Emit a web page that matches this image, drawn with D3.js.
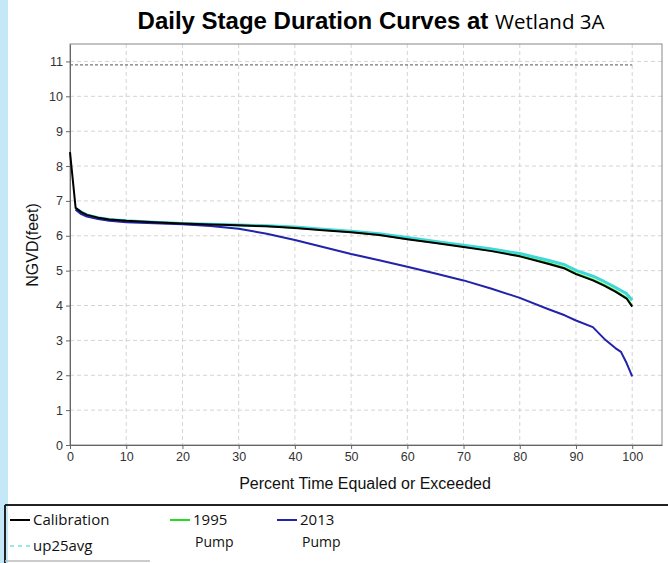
<!DOCTYPE html>
<html>
<head>
<meta charset="utf-8">
<script src="https://cdn.jsdelivr.net/npm/d3@7"></script>
<style>
  body { margin: 0; background: #c4e8f8; }
  svg { display: block; }
</style>
</head>
<body>
<svg></svg>
<script>
// Define variables
const width = 668;
const height = 563;
const margin = {left: 70, right: 6, top: 44, bottom: 117};

// data
const percent = [0, 1, 2, 3, 5, 7, 10, 15, 20, 25, 30, 35, 40, 45, 50, 55, 60, 65, 70, 75, 80, 85, 88, 90, 93, 95, 97, 98, 99, 100];
const calibration = [8.4, 6.8, 6.68, 6.6, 6.52, 6.47, 6.43, 6.39, 6.35, 6.32, 6.3, 6.27, 6.22, 6.16, 6.1, 6.02, 5.9, 5.79, 5.68, 5.56, 5.41, 5.2, 5.06, 4.9, 4.72, 4.57, 4.4, 4.3, 4.2, 3.97];
const pump1995 = [null, 6.79, 6.68, 6.6, 6.52, 6.47, 6.43, 6.39, 6.35, 6.32, 6.3, 6.28, 6.23, 6.17, 6.11, 6.03, 5.91, 5.8, 5.69, 5.57, 5.43, 5.22, 5.08, 4.92, 4.74, 4.59, 4.42, 4.32, 4.22, 3.99];
const up25avg = [null, 6.78, 6.68, 6.6, 6.52, 6.47, 6.43, 6.39, 6.35, 6.33, 6.31, 6.29, 6.25, 6.19, 6.13, 6.06, 5.95, 5.84, 5.73, 5.62, 5.49, 5.3, 5.17, 5.01, 4.84, 4.69, 4.52, 4.43, 4.34, 4.15];
const pump2013 = [null, 6.75, 6.62, 6.55, 6.48, 6.43, 6.39, 6.36, 6.33, 6.28, 6.2, 6.06, 5.88, 5.68, 5.48, 5.3, 5.11, 4.92, 4.72, 4.48, 4.22, 3.9, 3.72, 3.57, 3.38, 3.05, 2.78, 2.67, 2.35, 1.97];
const refLevel = 10.9;
const xTicks = [0, 10, 20, 30, 40, 50, 60, 70, 80, 90, 100];
const yTicks = [0, 1, 2, 3, 4, 5, 6, 7, 8, 9, 10, 11];

const svg = d3.select('svg')
    .attr('width', width)
    .attr('height', height)
    .style('font-family', 'Liberation Sans, Arial, sans-serif')

// slide background
svg.append('rect')
    .attr('x', 8).attr('y', 0)
    .attr('width', width - 8).attr('height', height)
    .attr('fill', '#fff')

const xScale = d3.scaleLinear().domain([0, 105.3]).range([margin.left, width - margin.right])
const yScale = d3.scaleLinear().domain([0, 11.5]).range([height - margin.bottom - 1, margin.top])

const plotBottom = yScale(0)

// grid
svg.append('g').selectAll('line')
    .data(xTicks.slice(1))
    .enter().append('line')
    .attr('x1', d => xScale(d)).attr('x2', d => xScale(d))
    .attr('y1', margin.top).attr('y2', plotBottom)
    .attr('stroke', '#d4d4d4').attr('stroke-dasharray', '4,3')

svg.append('g').selectAll('line')
    .data(yTicks.slice(1))
    .enter().append('line')
    .attr('x1', margin.left).attr('x2', width - margin.right)
    .attr('y1', d => yScale(d)).attr('y2', d => yScale(d))
    .attr('stroke', '#d4d4d4').attr('stroke-dasharray', '4,3')

// reference level
svg.append('line')
    .attr('x1', xScale(0)).attr('x2', xScale(100))
    .attr('y1', yScale(refLevel)).attr('y2', yScale(refLevel))
    .attr('stroke', '#555').attr('stroke-dasharray', '3,2')

// frame
svg.append('rect')
    .attr('x', margin.left).attr('y', margin.top)
    .attr('width', width - margin.right - margin.left)
    .attr('height', plotBottom - margin.top)
    .attr('fill', 'none').attr('stroke', '#888')

// axes
const xAxis = d3.axisBottom(xScale).tickValues(xTicks).tickSize(4).tickSizeOuter(0)
const gx = svg.append('g')
    .attr('transform', 'translate(0,' + plotBottom + ')')
    .call(xAxis)
gx.select('.domain').attr('stroke', '#666')
gx.selectAll('line').attr('stroke', '#666')
gx.selectAll('text').attr('font-size', 12.5).attr('fill', '#333').attr('font-family', 'Liberation Sans, Arial')

const yAxis = d3.axisLeft(yScale).tickValues(yTicks).tickSize(4).tickSizeOuter(0)
const gy = svg.append('g')
    .attr('transform', 'translate(' + margin.left + ',0)')
    .call(yAxis)
gy.select('.domain').attr('stroke', '#666')
gy.selectAll('line').attr('stroke', '#666')
gy.selectAll('text').attr('font-size', 12.5).attr('fill', '#333').attr('font-family', 'Liberation Sans, Arial')

// lines
const series = [
    {name: '1995', values: pump1995, color: '#22dd22', w: 2},
    {name: 'up25avg', values: up25avg, color: '#40d8d4', w: 3},
    {name: '2013', values: pump2013, color: '#2222aa', w: 2},
    {name: 'Calibration', values: calibration, color: '#000', w: 2}
]

const line = d3.line()
    .defined(d => d[1] != null)
    .x(d => xScale(d[0]))
    .y(d => yScale(d[1]))

series.forEach(s => {
    svg.append('path')
        .datum(percent.map((p, i) => [p, s.values[i]]))
        .attr('d', line)
        .attr('fill', 'none')
        .attr('stroke', s.color)
        .attr('stroke-width', s.w)
        .attr('stroke-linejoin', 'round')
})

// titles
const title = svg.append('text')
    .attr('x', 371).attr('y', 29)
    .attr('text-anchor', 'middle')
title.append('tspan')
    .attr('font-family', 'Liberation Sans, Arial').attr('font-weight', 'bold').attr('font-size', 24)
    .text('Daily Stage Duration Curves at ')
title.append('tspan')
    .attr('font-family', 'Open Sans, DejaVu Sans').attr('font-size', 20.5)
    .text('Wetland 3A')

svg.append('text')
    .attr('x', 365).attr('y', 489)
    .attr('text-anchor', 'middle')
    .attr('font-size', 16).attr('fill', '#111')
    .text('Percent Time Equaled or Exceeded')

svg.append('text')
    .attr('transform', 'translate(38,245) rotate(-90)')
    .attr('text-anchor', 'middle')
    .attr('font-size', 16).attr('fill', '#111')
    .text('NGVD(feet)')

// legend box
svg.append('rect')
    .attr('x', 0).attr('y', 505).attr('width', 5).attr('height', 58)
    .attr('fill', '#c4e8f8')
svg.append('line')
    .attr('x1', 5).attr('x2', width).attr('y1', 505).attr('y2', 505)
    .attr('stroke', '#222').attr('stroke-width', 2)
svg.append('line')
    .attr('x1', 5).attr('x2', 5).attr('y1', 505).attr('y2', height)
    .attr('stroke', '#222').attr('stroke-width', 2)
svg.append('line')
    .attr('x1', 5).attr('x2', 150).attr('y1', 561).attr('y2', 561)
    .attr('stroke', '#bbb').attr('stroke-width', 1.5)

const legendItems = [
    {label: 'Calibration', sub: null, color: '#000', x: 10, y: 520, dash: null},
    {label: '1995', sub: 'Pump', color: '#22dd22', x: 170, y: 520, dash: null},
    {label: '2013', sub: 'Pump', color: '#2222aa', x: 277, y: 520, dash: null},
    {label: 'up25avg', sub: null, color: '#9fe6e2', x: 10, y: 546, dash: '4,4'}
]

const lg = svg.append('g').attr('font-family', 'Open Sans, DejaVu Sans').attr('font-size', 15).attr('fill', '#111')
legendItems.forEach(d => {
    lg.append('line')
        .attr('x1', d.x).attr('x2', d.x + 20)
        .attr('y1', d.y).attr('y2', d.y)
        .attr('stroke', d.color).attr('stroke-width', 2)
        .attr('stroke-dasharray', d.dash)
    lg.append('text')
        .attr('x', d.x + 23).attr('y', d.y + 5)
        .text(d.label)
    if (d.sub) {
        lg.append('text')
            .attr('x', d.x + 25).attr('y', d.y + 27)
            .attr('font-size', 14)
            .text(d.sub)
    }
})
</script>
</body>
</html>
